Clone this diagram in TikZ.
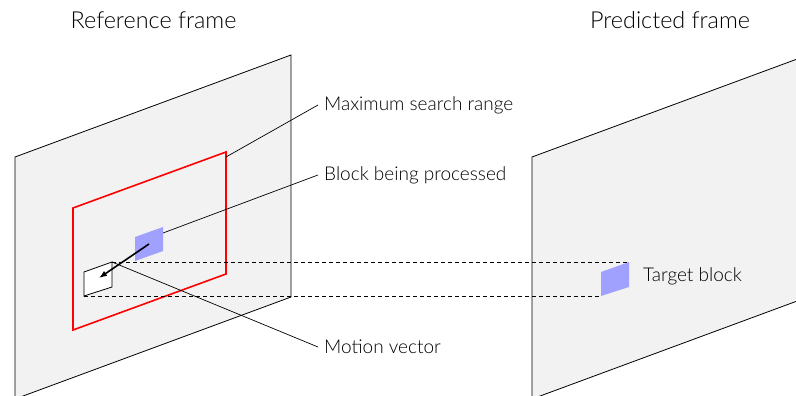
\documentclass[tikz,border=0pt]{standalone}
\usepackage{fontspec}
\setmainfont{Lato Light}
\usetikzlibrary{arrows.meta}
\definecolor{framefill}{HTML}{F2F2F2}
\definecolor{blockblue}{HTML}{A0A0FF}
\begin{document}
\begin{tikzpicture}[x=1pt,y=-1pt,
  frame/.style={draw=black,fill=framefill,line width=0.8pt},
  searchrange/.style={draw=red,line width=1.6pt},
  blueblock/.style={fill=blockblue},
  curblock/.style={draw=black,fill=white,line width=0.8pt},
  guide/.style={draw=black,line width=0.7pt,dash pattern=on 4pt off 3pt},
  leader/.style={draw=black,line width=0.7pt},
  mv/.style={draw=black,line width=1.6pt,-{Latex[length=8pt,width=6pt]}},
  lbl/.style={font=\fontsize{19}{22}\selectfont,inner xsep=6pt,inner ysep=0pt,anchor=west},
  title/.style={font=\fontsize{23.4}{27}\selectfont,inner sep=0pt,anchor=base}]
\clip (0,0) rectangle (796,396);

% reference frame and predicted frame
\draw[frame] (15,157) -- (291,55) -- (291,297) -- (15,399) -- cycle;
\draw[frame] (532,157) -- (808,55) -- (808,297) -- (532,399) -- cycle;

% maximum search range
\draw[searchrange] (73,208) -- (226,152) -- (226,274) -- (73,330) -- cycle;
\coordinate (rangeEdge) at (226,157);

% block being processed, current block, target block
\fill[blueblock] (135,237) -- (163,227) -- (163,251) -- (135,261) -- cycle;
\coordinate (blueC) at (149,244);
\coordinate (blueTR) at (163,233);

\coordinate (wTL) at (84,272);
\coordinate (wTR) at (112,262);
\coordinate (wBR) at (112,287);
\coordinate (wBL) at (84,296);
\draw[curblock] (wTL) -- (wTR) -- (wBR) -- (wBL) -- cycle;
\coordinate (wC) at (99,278);

\coordinate (tTL) at (601,272);
\coordinate (tTR) at (629,262);
\coordinate (tBR) at (629,287);
\coordinate (tBL) at (601,296);
\fill[blueblock] (tTL) -- (tTR) -- (tBR) -- (tBL) -- cycle;

% projection guides
\draw[guide] (wTR) -- (tTR);
\draw[guide] (wBL) -- (tBL);

% labels
\node[title] (reftitle) at (153.5,29) {Reference frame};
\node[title] (predtitle) at (670,29) {Predicted frame};
\node[lbl] (maxlbl) at (318,105) {Maximum search range};
\node[lbl] (blklbl) at (318,175) {Block being processed};
\node[lbl] (mvlbl) at (318,347) {Motion vector};
\node[lbl] (tgtlbl) at (637,276) {Target block};

% leader lines
\draw[leader] (rangeEdge) -- (maxlbl.west);
\draw[leader] (blueTR) -- (blklbl.west);
\draw[leader] (wTR) -- (mvlbl.west);

% motion vector
\draw[mv] (blueC) -- (wC);
\end{tikzpicture}
\end{document}
